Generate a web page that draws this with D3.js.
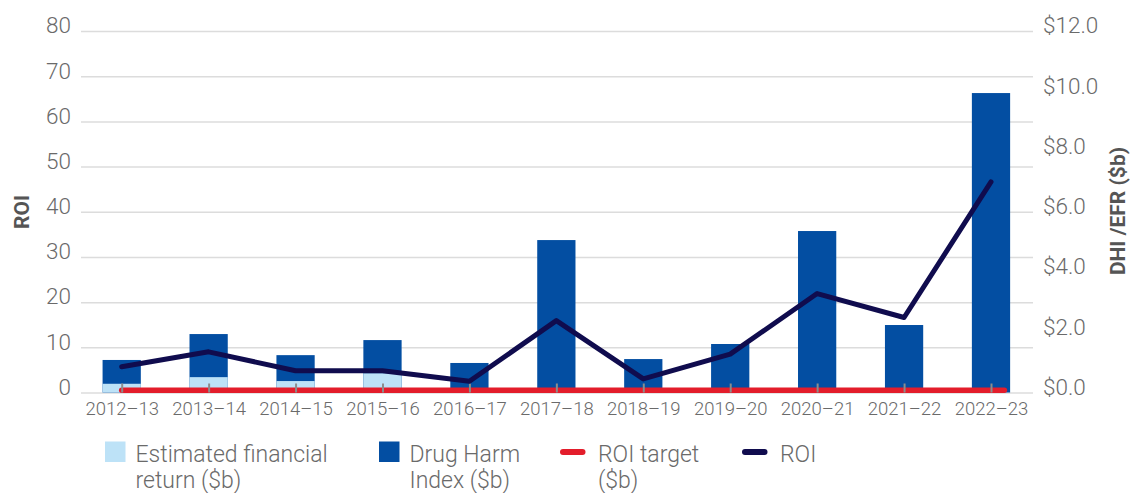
<!DOCTYPE html>
<html>
<head>
<meta charset="utf-8">
<script src="https://cdn.jsdelivr.net/npm/d3@7"></script>
<style>
  html, body { margin: 0; padding: 0; background: #fff; }
  svg { display: block; font-family: Roboto, "Open Sans", sans-serif; }
</style>
</head>
<body>
<svg id="chart" width="1132" height="493"></svg>
<script>
// Financial years
const categories = ["2012–13", "2013–14", "2014–15", "2015–16", "2016–17", "2017–18",
                    "2018–19", "2019–20", "2020–21", "2021–22", "2022–23"];
// Drug Harm Index ($b)
const dhi = [1.08, 1.94, 1.24, 1.74, 0.98, 5.06, 1.11, 1.61, 5.36, 2.24, 9.94];
// Estimated financial return ($b)
const efr = [0.29, 0.51, 0.38, 0.64, null, null, null, null, null, null, null];
// Return on investment
const roi = [5.7, 9.0, 4.8, 4.8, 2.5, 15.9, 3.0, 8.5, 21.9, 16.6, 46.6];
// ROI target
const roiTarget = 0.5;
// Axis ticks
const roiTicks = [0, 10, 20, 30, 40, 50, 60, 70, 80];
const dollarTicks = [0, 2, 4, 6, 8, 10, 12];

const FONT = "Roboto, 'Open Sans', sans-serif";
const colors = {
  efr: "#bde2f7",
  dhi: "#034ea2",
  target: "#e31d2b",
  roi: "#100c4e",
  grid: "#dcdcdc",
  text: "#6a6a6a",
  title: "#555555",
  tick: "#8c8c8c"
};

const svg = d3.select("#chart");
const plotLeft = 81, plotRight = 1033, plotTop = 31, plotBottom = 392.5;

const x = d3.scalePoint().domain(categories).range([121.7, 991]);
const step = x.step();
const barW = step * 0.44;
const yL = d3.scaleLinear().domain([0, 80]).range([plotBottom, plotTop]);
const yR = d3.scaleLinear().domain([0, 12]).range([plotBottom, plotTop]);

// Gridlines and left axis labels
const leftAxis = svg.append("g")
  .attr("transform", `translate(${plotLeft},0)`)
  .call(d3.axisLeft(yL).tickValues(roiTicks).tickSize(-(plotRight - plotLeft)).tickPadding(10))
  .attr("font-family", FONT);
leftAxis.select(".domain").remove();
leftAxis.selectAll(".tick line").attr("stroke", colors.grid).attr("stroke-width", 1.5);
leftAxis.selectAll(".tick text")
  .attr("fill", colors.text).attr("font-size", 22.5).attr("font-weight", 300)
  .attr("dy", "0.08em");

// Right axis labels
const rightAxis = svg.append("g")
  .attr("transform", `translate(${plotRight},0)`)
  .call(d3.axisRight(yR).tickValues(dollarTicks).tickSize(0).tickPadding(10)
    .tickFormat(d => "$" + d3.format(".1f")(d)))
  .attr("font-family", FONT);
rightAxis.select(".domain").remove();
rightAxis.selectAll(".tick text")
  .attr("fill", colors.text).attr("font-size", 22.5).attr("font-weight", 300)
  .attr("dy", "0.08em");

// Drug Harm Index bars
svg.append("g").selectAll("rect")
  .data(categories.map((c, i) => ({ c, v: dhi[i] })))
  .join("rect")
  .attr("x", d => x(d.c) - barW / 2)
  .attr("width", barW)
  .attr("y", d => yR(d.v))
  .attr("height", d => yR(0) - yR(d.v))
  .attr("fill", colors.dhi);

// Estimated financial return bars
svg.append("g").selectAll("rect")
  .data(categories.map((c, i) => ({ c, v: efr[i] })).filter(d => d.v != null))
  .join("rect")
  .attr("x", d => x(d.c) - barW / 2)
  .attr("width", barW)
  .attr("y", d => yR(d.v))
  .attr("height", d => yR(0) - yR(d.v))
  .attr("fill", colors.efr);

// ROI target line
svg.append("line")
  .attr("x1", x(categories[0]))
  .attr("x2", x(categories[categories.length - 1]) + barW * 0.35)
  .attr("y1", yL(roiTarget)).attr("y2", yL(roiTarget))
  .attr("stroke", colors.target).attr("stroke-width", 5.5)
  .attr("stroke-linecap", "round");

// Category axis
const bottomAxis = svg.append("g")
  .attr("transform", `translate(0,${plotBottom})`)
  .call(d3.axisBottom(x).tickSize(-9).tickPadding(9))
  .attr("font-family", FONT);
bottomAxis.select(".domain").remove();
bottomAxis.selectAll(".tick line").attr("stroke", colors.tick).attr("stroke-width", 2);
bottomAxis.selectAll(".tick text")
  .attr("fill", colors.text).attr("font-size", 18.5).attr("font-weight", 300)
  .attr("y", 9);

// ROI line
svg.append("path")
  .datum(categories.map((c, i) => [x(c), yL(roi[i])]))
  .attr("d", d3.line())
  .attr("fill", "none")
  .attr("stroke", colors.roi)
  .attr("stroke-width", 5)
  .attr("stroke-linejoin", "round")
  .attr("stroke-linecap", "round");

// Axis titles
svg.append("text")
  .attr("transform", "translate(29,212) rotate(-90)")
  .attr("text-anchor", "middle")
  .attr("font-family", FONT)
  .attr("font-size", 21).attr("font-weight", 700)
  .attr("fill", colors.title)
  .text("ROI");
svg.append("text")
  .attr("transform", "translate(1125,211) rotate(-90)")
  .attr("text-anchor", "middle")
  .attr("font-family", FONT)
  .attr("font-size", 21).attr("font-weight", 700)
  .attr("fill", colors.title)
  .text("DHI /EFR ($b)");

// Legend
const legendItems = [
  { type: "rect", color: colors.efr, x: 105, lines: ["Estimated financial", "return ($b)"] },
  { type: "rect", color: colors.dhi, x: 379, lines: ["Drug Harm", "Index ($b)"] },
  { type: "line", color: colors.target, x: 560, lines: ["ROI target", "($b)"] },
  { type: "line", color: colors.roi, x: 742, lines: ["ROI"] }
];
const legend = svg.append("g").attr("font-family", FONT);
legendItems.forEach(item => {
  const g = legend.append("g").attr("transform", `translate(${item.x},0)`);
  let textX;
  if (item.type === "rect") {
    g.append("rect").attr("x", 0).attr("y", 441.5).attr("width", 20.5).attr("height", 20.5)
      .attr("fill", item.color);
    textX = 30.5;
  } else {
    g.append("line").attr("x1", 3).attr("x2", 22.5).attr("y1", 452).attr("y2", 452)
      .attr("stroke", item.color).attr("stroke-width", 6).attr("stroke-linecap", "round");
    textX = 38;
  }
  const t = g.append("text").attr("x", textX).attr("y", 461.5)
    .attr("font-size", 23).attr("font-weight", 300).attr("fill", colors.text);
  item.lines.forEach((ln, i) => {
    t.append("tspan").attr("x", textX).attr("dy", i === 0 ? 0 : 26.8).text(ln);
  });
});
</script>
</body>
</html>
